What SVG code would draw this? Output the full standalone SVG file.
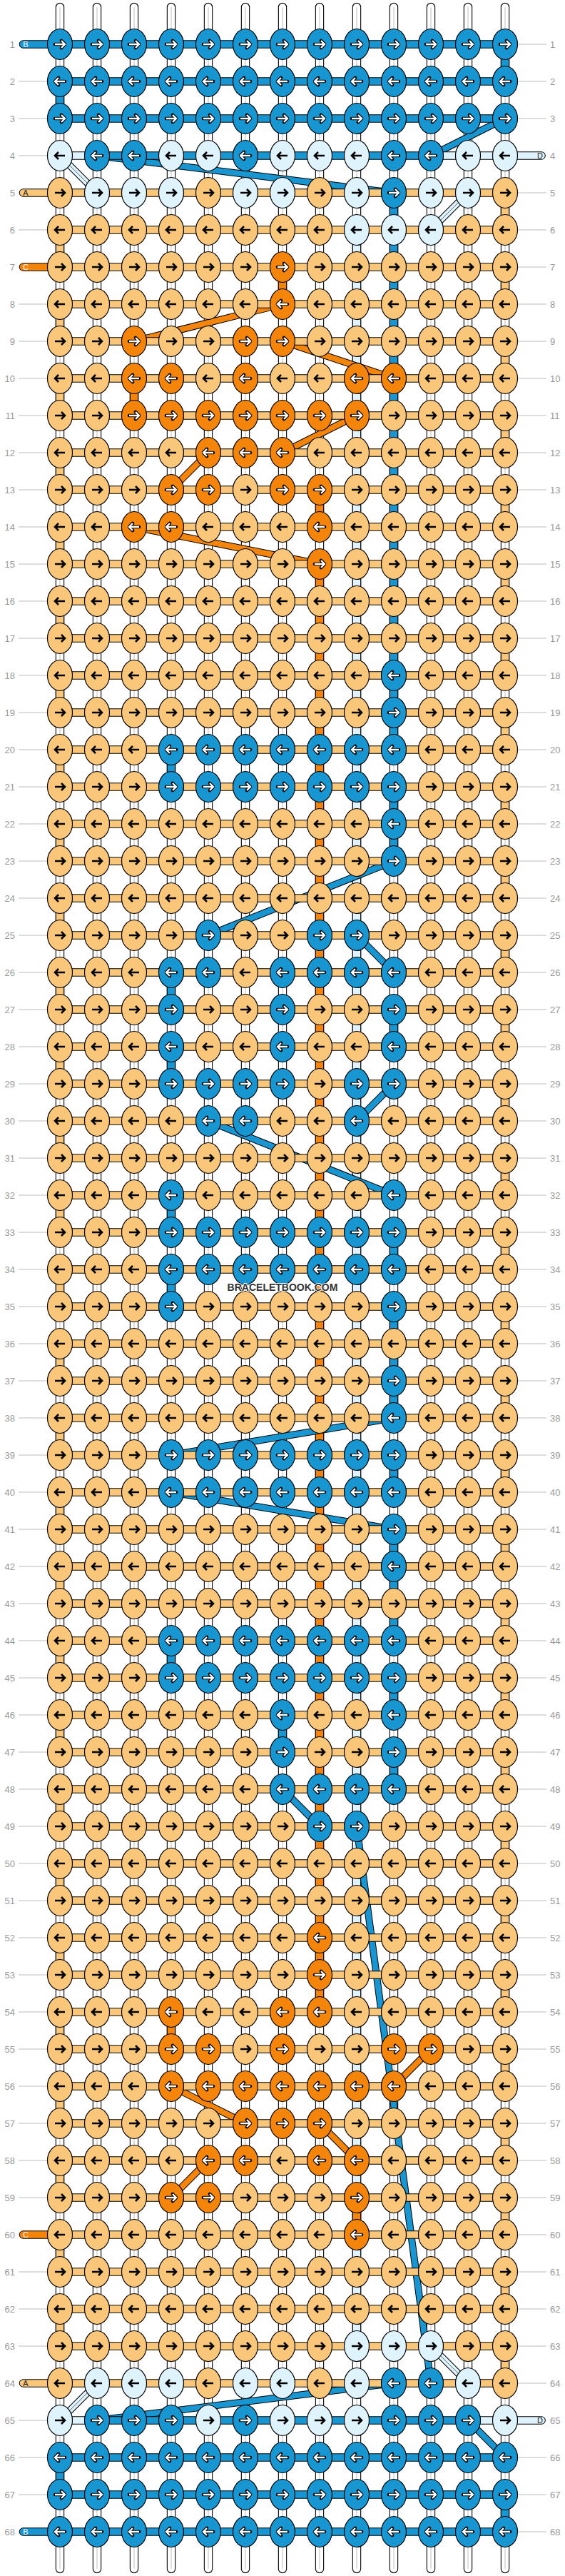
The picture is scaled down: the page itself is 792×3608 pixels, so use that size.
<svg xmlns="http://www.w3.org/2000/svg" width="792" height="3608" viewBox="0 0 792 3608">
<style>
.n{fill:none}
.ob{stroke:#000;stroke-width:12.4}
.ov{stroke-width:10.2}
.od{stroke:#000;stroke-width:10}
.dv{stroke-width:8}
.oh{stroke:#000;stroke-width:11.6}
.hv{stroke-width:9.6}
.rc{stroke-linecap:round}
.da{stroke-dasharray:52 52}
.cW{stroke:#fff}.cG{stroke:#c9c9c9;stroke-width:1.2}
.cA{stroke:#fac67a}.cB{stroke:#1896d2}.cC{stroke:#f5850a}.cD{stroke:#dff3fd}
.fA{fill:#fac67a}.fB{fill:#1896d2}.fC{fill:#f5850a}.fD{fill:#dff3fd}
ellipse{stroke:#000;stroke-width:1.2}
.ab{fill:none;stroke:#000;stroke-width:2.6}
.ao{fill:none;stroke:#000;stroke-width:4.6;stroke-linejoin:round;stroke-linecap:round}
.aw{fill:none;stroke:#fff;stroke-width:2.4}
.gl{stroke:#bbb;stroke-width:1.2}
.ll,.lr{font-family:"Liberation Sans",Arial,sans-serif;font-size:13px;fill:#999}
.ll{text-anchor:end}
.tl{font-family:"Liberation Sans",Arial,sans-serif;font-size:11px;text-anchor:middle}
.wm{font-family:"Liberation Sans",Arial,sans-serif;font-size:14px;font-weight:bold;fill:#333;stroke:#fff;stroke-width:2;paint-order:stroke;text-anchor:middle}
</style>
<defs>
<path id="ar" d="M-7 0H7M2-5 7 0 2 5"/>
<path id="al" d="M7 0H-7M-2-5-7 0-2 5"/>
<g id="AR"><ellipse class="fA" rx="17.5" ry="21.5"/><use href="#ar" class="ab"/></g>
<g id="AL"><ellipse class="fA" rx="17.5" ry="21.5"/><use href="#al" class="ab"/></g>
<g id="DR"><ellipse class="fD" rx="17.5" ry="21.5"/><use href="#ar" class="ab"/></g>
<g id="DL"><ellipse class="fD" rx="17.5" ry="21.5"/><use href="#al" class="ab"/></g>
<g id="BR"><ellipse class="fB" rx="17.5" ry="21.5"/><use href="#ar" class="ao"/><use href="#ar" class="aw"/></g>
<g id="BL"><ellipse class="fB" rx="17.5" ry="21.5"/><use href="#al" class="ao"/><use href="#al" class="aw"/></g>
<g id="CR"><ellipse class="fC" rx="17.5" ry="21.5"/><use href="#ar" class="ao"/><use href="#ar" class="aw"/></g>
<g id="CL"><ellipse class="fC" rx="17.5" ry="21.5"/><use href="#al" class="ao"/><use href="#al" class="aw"/></g>
<path id="st" d="M84 10V3598M136 10V3598M188 10V3598M240 10V3598M292 10V3598M344 10V3598M396 10V3598M448 10V3598M500 10V3598M552 10V3598M604 10V3598M656 10V3598M708 10V3598"/>
<path id="vB" d="M708 62V114M84 114V166M552 270V1050M240 1050V1102M552 1102V1206M240 1362V1414M552 1414V1466M240 1466V1518M240 1674V1726M552 1726V1778M240 1778V1830M552 1830V1986M552 2038V2090M552 2142V2298M240 2298V2350M552 2350V2402M396 2402V2454M552 2454V2506M84 3442V3494M708 3494V3546"/>
<path id="vC" d="M396 374V426M188 530V582M448 686V738M448 790V2818M240 2818V2870M500 3078V3130"/>
<path id="vD" d="M500 322V3286"/>
<path id="vA" d="M84 322V3286M708 270V3338"/>
<path id="dB" d="M708 166L604 218M136 218L552 270M552 1206L292 1310M500 1310L552 1362M552 1518L500 1570M292 1570L552 1674M552 1986L240 2038M240 2090L552 2142M396 2506L448 2558M500 2558L604 3338M552 3338L136 3390M656 3390L708 3442"/>
<path id="dC" d="M396 426L188 478M396 478L552 530M500 582L396 634M292 634L240 686M188 738L448 790M604 2870L552 2922M240 2922L344 2974M448 2974L500 3026M292 3026L240 3078"/>
<path id="dD" d="M84 218L136 270M656 270L604 322M604 3286L656 3338M136 3338L84 3390"/>
<path id="bB" d="M84 62H708M84 114H708M84 166H708M136 218H604M136 3390H656M84 3442H708M84 3494H708M84 3546H708"/>
<path id="bD" d="M84 218H136M604 218H708M84 3390H136M656 3390H708"/>
<path id="bA" d="M84 270H708M84 322H708M84 374H708M84 426H708M84 478H708M84 530H708M84 582H708M84 634H708M84 686H708M84 738H708M84 790H708M84 842H708M84 894H708M84 946H708M84 998H708M84 1050H708M84 1102H708M84 1154H708M84 1206H708M84 1258H708M84 1310H708M84 1362H708M84 1414H708M84 1466H708M84 1518H708M84 1570H708M84 1622H708M84 1674H708M84 1726H708M84 1778H708M84 1830H708M84 1882H708M84 1934H708M84 1986H708M84 2038H708M84 2090H708M84 2142H708M84 2194H708M84 2246H708M84 2298H708M84 2350H708M84 2402H708M84 2454H708M84 2506H708M84 2558H708M84 2610H708M84 2662H708M84 2714H708M84 2766H708M84 2818H708M84 2870H708M84 2922H708M84 2974H708M84 3026H708M84 3078H708M84 3130H708M84 3182H708M84 3234H708M84 3286H708M84 3338H708"/>
<path id="tB" d="M32.5 62H84M32.5 3546H84"/>
<path id="tA" d="M32.5 270H84M32.5 3338H84"/>
<path id="tC" d="M32.5 374H84M32.5 3130H84"/>
<path id="tD" d="M708 218H759M708 3390H759"/>
</defs>
<rect width="792" height="3608" fill="#fff"/>
<g id="connectors">
<g id="strands"><use href="#st" class="n ob rc"/><use href="#st" class="n ov cW rc"/><use href="#st" class="n cG"/></g>
<g id="carried">
<use href="#vD" class="n ob"/><use href="#vD" class="n ov cD"/>
<use href="#vB" class="n ob"/><use href="#vB" class="n ov cB"/>
<use href="#vC" class="n ob"/><use href="#vC" class="n ov cC"/>
<use href="#vA" class="n ob da"/><use href="#vA" class="n ov cA da"/>
</g>
<g id="diagonals">
<use href="#dB" class="n od"/><use href="#dB" class="n dv cB"/>
<use href="#dC" class="n od"/><use href="#dC" class="n dv cC"/>
<use href="#dD" class="n od"/><use href="#dD" class="n dv cD"/><use href="#dD" class="n" stroke="#444" stroke-width="0.8"/>
</g>
<g id="bands">
<use href="#bA" class="n oh"/><use href="#bA" class="n hv cA"/>
<use href="#bB" class="n oh"/><use href="#bB" class="n hv cB"/>
<use href="#bD" class="n oh"/><use href="#bD" class="n hv cD"/>
<use href="#tB" class="n oh rc"/><use href="#tB" class="n hv cB rc"/>
<use href="#tA" class="n oh rc"/><use href="#tA" class="n hv cA rc"/>
<use href="#tC" class="n oh rc"/><use href="#tC" class="n hv cC rc"/>
<use href="#tD" class="n oh rc"/><use href="#tD" class="n hv cD rc"/>
</g>
</g>
<g id="tail-labels">
<text class="tl" x="36" y="66" fill="#fff">B</text>
<text class="tl" x="36" y="274" fill="#222">A</text>
<text class="tl" x="36" y="378" fill="#fff">C</text>
<text class="tl" x="36" y="3134" fill="#fff">C</text>
<text class="tl" x="36" y="3342" fill="#222">A</text>
<text class="tl" x="36" y="3550" fill="#fff">B</text>
<text class="tl" x="757" y="222" fill="#222">D</text>
<text class="tl" x="757" y="3394" fill="#222">D</text>
</g>
<g id="row1" transform="translate(0,62)"><path class="gl" d="M725 0H766"/><text class="ll" x="21" y="4.5">1</text><text class="lr" x="771" y="4.5">1</text><use id="k1_1" href="#BR" x="84"/><use id="k1_2" href="#BR" x="136"/><use id="k1_3" href="#BR" x="188"/><use id="k1_4" href="#BR" x="240"/><use id="k1_5" href="#BR" x="292"/><use id="k1_6" href="#BR" x="344"/><use id="k1_7" href="#BR" x="396"/><use id="k1_8" href="#BR" x="448"/><use id="k1_9" href="#BR" x="500"/><use id="k1_10" href="#BR" x="552"/><use id="k1_11" href="#BR" x="604"/><use id="k1_12" href="#BR" x="656"/><use id="k1_13" href="#BR" x="708"/></g>
<g id="row2" transform="translate(0,114)"><path class="gl" d="M26 0H66M725 0H766"/><text class="ll" x="21" y="4.5">2</text><text class="lr" x="771" y="4.5">2</text><use id="k2_1" href="#BL" x="84"/><use id="k2_2" href="#BL" x="136"/><use id="k2_3" href="#BL" x="188"/><use id="k2_4" href="#BL" x="240"/><use id="k2_5" href="#BL" x="292"/><use id="k2_6" href="#BL" x="344"/><use id="k2_7" href="#BL" x="396"/><use id="k2_8" href="#BL" x="448"/><use id="k2_9" href="#BL" x="500"/><use id="k2_10" href="#BL" x="552"/><use id="k2_11" href="#BL" x="604"/><use id="k2_12" href="#BL" x="656"/><use id="k2_13" href="#BL" x="708"/></g>
<g id="row3" transform="translate(0,166)"><path class="gl" d="M26 0H66M725 0H766"/><text class="ll" x="21" y="4.5">3</text><text class="lr" x="771" y="4.5">3</text><use id="k3_1" href="#BR" x="84"/><use id="k3_2" href="#BR" x="136"/><use id="k3_3" href="#BR" x="188"/><use id="k3_4" href="#BR" x="240"/><use id="k3_5" href="#BR" x="292"/><use id="k3_6" href="#BR" x="344"/><use id="k3_7" href="#BR" x="396"/><use id="k3_8" href="#BR" x="448"/><use id="k3_9" href="#BR" x="500"/><use id="k3_10" href="#BR" x="552"/><use id="k3_11" href="#BR" x="604"/><use id="k3_12" href="#BR" x="656"/><use id="k3_13" href="#BR" x="708"/></g>
<g id="row4" transform="translate(0,218)"><path class="gl" d="M26 0H66"/><text class="ll" x="21" y="4.5">4</text><text class="lr" x="771" y="4.5">4</text><use id="k4_1" href="#DL" x="84"/><use id="k4_2" href="#BL" x="136"/><use id="k4_3" href="#BL" x="188"/><use id="k4_4" href="#DL" x="240"/><use id="k4_5" href="#DL" x="292"/><use id="k4_6" href="#BL" x="344"/><use id="k4_7" href="#DL" x="396"/><use id="k4_8" href="#DL" x="448"/><use id="k4_9" href="#DL" x="500"/><use id="k4_10" href="#BL" x="552"/><use id="k4_11" href="#BL" x="604"/><use id="k4_12" href="#DL" x="656"/><use id="k4_13" href="#DL" x="708"/></g>
<g id="row5" transform="translate(0,270)"><path class="gl" d="M725 0H766"/><text class="ll" x="21" y="4.5">5</text><text class="lr" x="771" y="4.5">5</text><use id="k5_1" href="#AR" x="84"/><use id="k5_2" href="#DR" x="136"/><use id="k5_3" href="#DR" x="188"/><use id="k5_4" href="#DR" x="240"/><use id="k5_5" href="#AR" x="292"/><use id="k5_6" href="#DR" x="344"/><use id="k5_7" href="#DR" x="396"/><use id="k5_8" href="#AR" x="448"/><use id="k5_9" href="#DR" x="500"/><use id="k5_10" href="#BR" x="552"/><use id="k5_11" href="#DR" x="604"/><use id="k5_12" href="#DR" x="656"/><use id="k5_13" href="#AR" x="708"/></g>
<g id="row6" transform="translate(0,322)"><path class="gl" d="M26 0H66M725 0H766"/><text class="ll" x="21" y="4.5">6</text><text class="lr" x="771" y="4.5">6</text><use id="k6_1" href="#AL" x="84"/><use id="k6_2" href="#AL" x="136"/><use id="k6_3" href="#AL" x="188"/><use id="k6_4" href="#AL" x="240"/><use id="k6_5" href="#AL" x="292"/><use id="k6_6" href="#AL" x="344"/><use id="k6_7" href="#AL" x="396"/><use id="k6_8" href="#AL" x="448"/><use id="k6_9" href="#DL" x="500"/><use id="k6_10" href="#DL" x="552"/><use id="k6_11" href="#DL" x="604"/><use id="k6_12" href="#AL" x="656"/><use id="k6_13" href="#AL" x="708"/></g>
<g id="row7" transform="translate(0,374)"><path class="gl" d="M725 0H766"/><text class="ll" x="21" y="4.5">7</text><text class="lr" x="771" y="4.5">7</text><use id="k7_1" href="#AR" x="84"/><use id="k7_2" href="#AR" x="136"/><use id="k7_3" href="#AR" x="188"/><use id="k7_4" href="#AR" x="240"/><use id="k7_5" href="#AR" x="292"/><use id="k7_6" href="#AR" x="344"/><use id="k7_7" href="#CR" x="396"/><use id="k7_8" href="#AR" x="448"/><use id="k7_9" href="#AR" x="500"/><use id="k7_10" href="#AR" x="552"/><use id="k7_11" href="#AR" x="604"/><use id="k7_12" href="#AR" x="656"/><use id="k7_13" href="#AR" x="708"/></g>
<g id="row8" transform="translate(0,426)"><path class="gl" d="M26 0H66M725 0H766"/><text class="ll" x="21" y="4.5">8</text><text class="lr" x="771" y="4.5">8</text><use id="k8_1" href="#AL" x="84"/><use id="k8_2" href="#AL" x="136"/><use id="k8_3" href="#AL" x="188"/><use id="k8_4" href="#AL" x="240"/><use id="k8_5" href="#AL" x="292"/><use id="k8_6" href="#AL" x="344"/><use id="k8_7" href="#CL" x="396"/><use id="k8_8" href="#AL" x="448"/><use id="k8_9" href="#AL" x="500"/><use id="k8_10" href="#AL" x="552"/><use id="k8_11" href="#AL" x="604"/><use id="k8_12" href="#AL" x="656"/><use id="k8_13" href="#AL" x="708"/></g>
<g id="row9" transform="translate(0,478)"><path class="gl" d="M26 0H66M725 0H766"/><text class="ll" x="21" y="4.5">9</text><text class="lr" x="771" y="4.5">9</text><use id="k9_1" href="#AR" x="84"/><use id="k9_2" href="#AR" x="136"/><use id="k9_3" href="#CR" x="188"/><use id="k9_4" href="#AR" x="240"/><use id="k9_5" href="#AR" x="292"/><use id="k9_6" href="#CR" x="344"/><use id="k9_7" href="#CR" x="396"/><use id="k9_8" href="#AR" x="448"/><use id="k9_9" href="#AR" x="500"/><use id="k9_10" href="#AR" x="552"/><use id="k9_11" href="#AR" x="604"/><use id="k9_12" href="#AR" x="656"/><use id="k9_13" href="#AR" x="708"/></g>
<g id="row10" transform="translate(0,530)"><path class="gl" d="M26 0H66M725 0H766"/><text class="ll" x="21" y="4.5">10</text><text class="lr" x="771" y="4.5">10</text><use id="k10_1" href="#AL" x="84"/><use id="k10_2" href="#AL" x="136"/><use id="k10_3" href="#CL" x="188"/><use id="k10_4" href="#CL" x="240"/><use id="k10_5" href="#AL" x="292"/><use id="k10_6" href="#CL" x="344"/><use id="k10_7" href="#AL" x="396"/><use id="k10_8" href="#AL" x="448"/><use id="k10_9" href="#CL" x="500"/><use id="k10_10" href="#CL" x="552"/><use id="k10_11" href="#AL" x="604"/><use id="k10_12" href="#AL" x="656"/><use id="k10_13" href="#AL" x="708"/></g>
<g id="row11" transform="translate(0,582)"><path class="gl" d="M26 0H66M725 0H766"/><text class="ll" x="21" y="4.5">11</text><text class="lr" x="771" y="4.5">11</text><use id="k11_1" href="#AR" x="84"/><use id="k11_2" href="#AR" x="136"/><use id="k11_3" href="#CR" x="188"/><use id="k11_4" href="#CR" x="240"/><use id="k11_5" href="#CR" x="292"/><use id="k11_6" href="#CR" x="344"/><use id="k11_7" href="#CR" x="396"/><use id="k11_8" href="#CR" x="448"/><use id="k11_9" href="#CR" x="500"/><use id="k11_10" href="#AR" x="552"/><use id="k11_11" href="#AR" x="604"/><use id="k11_12" href="#AR" x="656"/><use id="k11_13" href="#AR" x="708"/></g>
<g id="row12" transform="translate(0,634)"><path class="gl" d="M26 0H66M725 0H766"/><text class="ll" x="21" y="4.5">12</text><text class="lr" x="771" y="4.5">12</text><use id="k12_1" href="#AL" x="84"/><use id="k12_2" href="#AL" x="136"/><use id="k12_3" href="#AL" x="188"/><use id="k12_4" href="#AL" x="240"/><use id="k12_5" href="#CL" x="292"/><use id="k12_6" href="#CL" x="344"/><use id="k12_7" href="#CL" x="396"/><use id="k12_8" href="#AL" x="448"/><use id="k12_9" href="#AL" x="500"/><use id="k12_10" href="#AL" x="552"/><use id="k12_11" href="#AL" x="604"/><use id="k12_12" href="#AL" x="656"/><use id="k12_13" href="#AL" x="708"/></g>
<g id="row13" transform="translate(0,686)"><path class="gl" d="M26 0H66M725 0H766"/><text class="ll" x="21" y="4.5">13</text><text class="lr" x="771" y="4.5">13</text><use id="k13_1" href="#AR" x="84"/><use id="k13_2" href="#AR" x="136"/><use id="k13_3" href="#AR" x="188"/><use id="k13_4" href="#CR" x="240"/><use id="k13_5" href="#CR" x="292"/><use id="k13_6" href="#AR" x="344"/><use id="k13_7" href="#CR" x="396"/><use id="k13_8" href="#CR" x="448"/><use id="k13_9" href="#AR" x="500"/><use id="k13_10" href="#AR" x="552"/><use id="k13_11" href="#AR" x="604"/><use id="k13_12" href="#AR" x="656"/><use id="k13_13" href="#AR" x="708"/></g>
<g id="row14" transform="translate(0,738)"><path class="gl" d="M26 0H66M725 0H766"/><text class="ll" x="21" y="4.5">14</text><text class="lr" x="771" y="4.5">14</text><use id="k14_1" href="#AL" x="84"/><use id="k14_2" href="#AL" x="136"/><use id="k14_3" href="#CL" x="188"/><use id="k14_4" href="#CL" x="240"/><use id="k14_5" href="#AL" x="292"/><use id="k14_6" href="#AL" x="344"/><use id="k14_7" href="#AL" x="396"/><use id="k14_8" href="#CL" x="448"/><use id="k14_9" href="#AL" x="500"/><use id="k14_10" href="#AL" x="552"/><use id="k14_11" href="#AL" x="604"/><use id="k14_12" href="#AL" x="656"/><use id="k14_13" href="#AL" x="708"/></g>
<g id="row15" transform="translate(0,790)"><path class="gl" d="M26 0H66M725 0H766"/><text class="ll" x="21" y="4.5">15</text><text class="lr" x="771" y="4.5">15</text><use id="k15_1" href="#AR" x="84"/><use id="k15_2" href="#AR" x="136"/><use id="k15_3" href="#AR" x="188"/><use id="k15_4" href="#AR" x="240"/><use id="k15_5" href="#AR" x="292"/><use id="k15_6" href="#AR" x="344"/><use id="k15_7" href="#AR" x="396"/><use id="k15_8" href="#CR" x="448"/><use id="k15_9" href="#AR" x="500"/><use id="k15_10" href="#AR" x="552"/><use id="k15_11" href="#AR" x="604"/><use id="k15_12" href="#AR" x="656"/><use id="k15_13" href="#AR" x="708"/></g>
<g id="row16" transform="translate(0,842)"><path class="gl" d="M26 0H66M725 0H766"/><text class="ll" x="21" y="4.5">16</text><text class="lr" x="771" y="4.5">16</text><use id="k16_1" href="#AL" x="84"/><use id="k16_2" href="#AL" x="136"/><use id="k16_3" href="#AL" x="188"/><use id="k16_4" href="#AL" x="240"/><use id="k16_5" href="#AL" x="292"/><use id="k16_6" href="#AL" x="344"/><use id="k16_7" href="#AL" x="396"/><use id="k16_8" href="#AL" x="448"/><use id="k16_9" href="#AL" x="500"/><use id="k16_10" href="#AL" x="552"/><use id="k16_11" href="#AL" x="604"/><use id="k16_12" href="#AL" x="656"/><use id="k16_13" href="#AL" x="708"/></g>
<g id="row17" transform="translate(0,894)"><path class="gl" d="M26 0H66M725 0H766"/><text class="ll" x="21" y="4.5">17</text><text class="lr" x="771" y="4.5">17</text><use id="k17_1" href="#AR" x="84"/><use id="k17_2" href="#AR" x="136"/><use id="k17_3" href="#AR" x="188"/><use id="k17_4" href="#AR" x="240"/><use id="k17_5" href="#AR" x="292"/><use id="k17_6" href="#AR" x="344"/><use id="k17_7" href="#AR" x="396"/><use id="k17_8" href="#AR" x="448"/><use id="k17_9" href="#AR" x="500"/><use id="k17_10" href="#AR" x="552"/><use id="k17_11" href="#AR" x="604"/><use id="k17_12" href="#AR" x="656"/><use id="k17_13" href="#AR" x="708"/></g>
<g id="row18" transform="translate(0,946)"><path class="gl" d="M26 0H66M725 0H766"/><text class="ll" x="21" y="4.5">18</text><text class="lr" x="771" y="4.5">18</text><use id="k18_1" href="#AL" x="84"/><use id="k18_2" href="#AL" x="136"/><use id="k18_3" href="#AL" x="188"/><use id="k18_4" href="#AL" x="240"/><use id="k18_5" href="#AL" x="292"/><use id="k18_6" href="#AL" x="344"/><use id="k18_7" href="#AL" x="396"/><use id="k18_8" href="#AL" x="448"/><use id="k18_9" href="#AL" x="500"/><use id="k18_10" href="#BL" x="552"/><use id="k18_11" href="#AL" x="604"/><use id="k18_12" href="#AL" x="656"/><use id="k18_13" href="#AL" x="708"/></g>
<g id="row19" transform="translate(0,998)"><path class="gl" d="M26 0H66M725 0H766"/><text class="ll" x="21" y="4.5">19</text><text class="lr" x="771" y="4.5">19</text><use id="k19_1" href="#AR" x="84"/><use id="k19_2" href="#AR" x="136"/><use id="k19_3" href="#AR" x="188"/><use id="k19_4" href="#AR" x="240"/><use id="k19_5" href="#AR" x="292"/><use id="k19_6" href="#AR" x="344"/><use id="k19_7" href="#AR" x="396"/><use id="k19_8" href="#AR" x="448"/><use id="k19_9" href="#AR" x="500"/><use id="k19_10" href="#BR" x="552"/><use id="k19_11" href="#AR" x="604"/><use id="k19_12" href="#AR" x="656"/><use id="k19_13" href="#AR" x="708"/></g>
<g id="row20" transform="translate(0,1050)"><path class="gl" d="M26 0H66M725 0H766"/><text class="ll" x="21" y="4.5">20</text><text class="lr" x="771" y="4.5">20</text><use id="k20_1" href="#AL" x="84"/><use id="k20_2" href="#AL" x="136"/><use id="k20_3" href="#AL" x="188"/><use id="k20_4" href="#BL" x="240"/><use id="k20_5" href="#BL" x="292"/><use id="k20_6" href="#BL" x="344"/><use id="k20_7" href="#BL" x="396"/><use id="k20_8" href="#BL" x="448"/><use id="k20_9" href="#BL" x="500"/><use id="k20_10" href="#BL" x="552"/><use id="k20_11" href="#AL" x="604"/><use id="k20_12" href="#AL" x="656"/><use id="k20_13" href="#AL" x="708"/></g>
<g id="row21" transform="translate(0,1102)"><path class="gl" d="M26 0H66M725 0H766"/><text class="ll" x="21" y="4.5">21</text><text class="lr" x="771" y="4.5">21</text><use id="k21_1" href="#AR" x="84"/><use id="k21_2" href="#AR" x="136"/><use id="k21_3" href="#AR" x="188"/><use id="k21_4" href="#BR" x="240"/><use id="k21_5" href="#BR" x="292"/><use id="k21_6" href="#BR" x="344"/><use id="k21_7" href="#BR" x="396"/><use id="k21_8" href="#BR" x="448"/><use id="k21_9" href="#BR" x="500"/><use id="k21_10" href="#BR" x="552"/><use id="k21_11" href="#AR" x="604"/><use id="k21_12" href="#AR" x="656"/><use id="k21_13" href="#AR" x="708"/></g>
<g id="row22" transform="translate(0,1154)"><path class="gl" d="M26 0H66M725 0H766"/><text class="ll" x="21" y="4.5">22</text><text class="lr" x="771" y="4.5">22</text><use id="k22_1" href="#AL" x="84"/><use id="k22_2" href="#AL" x="136"/><use id="k22_3" href="#AL" x="188"/><use id="k22_4" href="#AL" x="240"/><use id="k22_5" href="#AL" x="292"/><use id="k22_6" href="#AL" x="344"/><use id="k22_7" href="#AL" x="396"/><use id="k22_8" href="#AL" x="448"/><use id="k22_9" href="#AL" x="500"/><use id="k22_10" href="#BL" x="552"/><use id="k22_11" href="#AL" x="604"/><use id="k22_12" href="#AL" x="656"/><use id="k22_13" href="#AL" x="708"/></g>
<g id="row23" transform="translate(0,1206)"><path class="gl" d="M26 0H66M725 0H766"/><text class="ll" x="21" y="4.5">23</text><text class="lr" x="771" y="4.5">23</text><use id="k23_1" href="#AR" x="84"/><use id="k23_2" href="#AR" x="136"/><use id="k23_3" href="#AR" x="188"/><use id="k23_4" href="#AR" x="240"/><use id="k23_5" href="#AR" x="292"/><use id="k23_6" href="#AR" x="344"/><use id="k23_7" href="#AR" x="396"/><use id="k23_8" href="#AR" x="448"/><use id="k23_9" href="#AR" x="500"/><use id="k23_10" href="#BR" x="552"/><use id="k23_11" href="#AR" x="604"/><use id="k23_12" href="#AR" x="656"/><use id="k23_13" href="#AR" x="708"/></g>
<g id="row24" transform="translate(0,1258)"><path class="gl" d="M26 0H66M725 0H766"/><text class="ll" x="21" y="4.5">24</text><text class="lr" x="771" y="4.5">24</text><use id="k24_1" href="#AL" x="84"/><use id="k24_2" href="#AL" x="136"/><use id="k24_3" href="#AL" x="188"/><use id="k24_4" href="#AL" x="240"/><use id="k24_5" href="#AL" x="292"/><use id="k24_6" href="#AL" x="344"/><use id="k24_7" href="#AL" x="396"/><use id="k24_8" href="#AL" x="448"/><use id="k24_9" href="#AL" x="500"/><use id="k24_10" href="#AL" x="552"/><use id="k24_11" href="#AL" x="604"/><use id="k24_12" href="#AL" x="656"/><use id="k24_13" href="#AL" x="708"/></g>
<g id="row25" transform="translate(0,1310)"><path class="gl" d="M26 0H66M725 0H766"/><text class="ll" x="21" y="4.5">25</text><text class="lr" x="771" y="4.5">25</text><use id="k25_1" href="#AR" x="84"/><use id="k25_2" href="#AR" x="136"/><use id="k25_3" href="#AR" x="188"/><use id="k25_4" href="#AR" x="240"/><use id="k25_5" href="#BR" x="292"/><use id="k25_6" href="#AR" x="344"/><use id="k25_7" href="#AR" x="396"/><use id="k25_8" href="#BR" x="448"/><use id="k25_9" href="#BR" x="500"/><use id="k25_10" href="#AR" x="552"/><use id="k25_11" href="#AR" x="604"/><use id="k25_12" href="#AR" x="656"/><use id="k25_13" href="#AR" x="708"/></g>
<g id="row26" transform="translate(0,1362)"><path class="gl" d="M26 0H66M725 0H766"/><text class="ll" x="21" y="4.5">26</text><text class="lr" x="771" y="4.5">26</text><use id="k26_1" href="#AL" x="84"/><use id="k26_2" href="#AL" x="136"/><use id="k26_3" href="#AL" x="188"/><use id="k26_4" href="#BL" x="240"/><use id="k26_5" href="#BL" x="292"/><use id="k26_6" href="#AL" x="344"/><use id="k26_7" href="#BL" x="396"/><use id="k26_8" href="#BL" x="448"/><use id="k26_9" href="#BL" x="500"/><use id="k26_10" href="#BL" x="552"/><use id="k26_11" href="#AL" x="604"/><use id="k26_12" href="#AL" x="656"/><use id="k26_13" href="#AL" x="708"/></g>
<g id="row27" transform="translate(0,1414)"><path class="gl" d="M26 0H66M725 0H766"/><text class="ll" x="21" y="4.5">27</text><text class="lr" x="771" y="4.5">27</text><use id="k27_1" href="#AR" x="84"/><use id="k27_2" href="#AR" x="136"/><use id="k27_3" href="#AR" x="188"/><use id="k27_4" href="#BR" x="240"/><use id="k27_5" href="#AR" x="292"/><use id="k27_6" href="#AR" x="344"/><use id="k27_7" href="#BR" x="396"/><use id="k27_8" href="#AR" x="448"/><use id="k27_9" href="#AR" x="500"/><use id="k27_10" href="#BR" x="552"/><use id="k27_11" href="#AR" x="604"/><use id="k27_12" href="#AR" x="656"/><use id="k27_13" href="#AR" x="708"/></g>
<g id="row28" transform="translate(0,1466)"><path class="gl" d="M26 0H66M725 0H766"/><text class="ll" x="21" y="4.5">28</text><text class="lr" x="771" y="4.5">28</text><use id="k28_1" href="#AL" x="84"/><use id="k28_2" href="#AL" x="136"/><use id="k28_3" href="#AL" x="188"/><use id="k28_4" href="#BL" x="240"/><use id="k28_5" href="#AL" x="292"/><use id="k28_6" href="#AL" x="344"/><use id="k28_7" href="#BL" x="396"/><use id="k28_8" href="#AL" x="448"/><use id="k28_9" href="#AL" x="500"/><use id="k28_10" href="#BL" x="552"/><use id="k28_11" href="#AL" x="604"/><use id="k28_12" href="#AL" x="656"/><use id="k28_13" href="#AL" x="708"/></g>
<g id="row29" transform="translate(0,1518)"><path class="gl" d="M26 0H66M725 0H766"/><text class="ll" x="21" y="4.5">29</text><text class="lr" x="771" y="4.5">29</text><use id="k29_1" href="#AR" x="84"/><use id="k29_2" href="#AR" x="136"/><use id="k29_3" href="#AR" x="188"/><use id="k29_4" href="#BR" x="240"/><use id="k29_5" href="#BR" x="292"/><use id="k29_6" href="#BR" x="344"/><use id="k29_7" href="#BR" x="396"/><use id="k29_8" href="#AR" x="448"/><use id="k29_9" href="#BR" x="500"/><use id="k29_10" href="#BR" x="552"/><use id="k29_11" href="#AR" x="604"/><use id="k29_12" href="#AR" x="656"/><use id="k29_13" href="#AR" x="708"/></g>
<g id="row30" transform="translate(0,1570)"><path class="gl" d="M26 0H66M725 0H766"/><text class="ll" x="21" y="4.5">30</text><text class="lr" x="771" y="4.5">30</text><use id="k30_1" href="#AL" x="84"/><use id="k30_2" href="#AL" x="136"/><use id="k30_3" href="#AL" x="188"/><use id="k30_4" href="#AL" x="240"/><use id="k30_5" href="#BL" x="292"/><use id="k30_6" href="#BL" x="344"/><use id="k30_7" href="#AL" x="396"/><use id="k30_8" href="#AL" x="448"/><use id="k30_9" href="#BL" x="500"/><use id="k30_10" href="#AL" x="552"/><use id="k30_11" href="#AL" x="604"/><use id="k30_12" href="#AL" x="656"/><use id="k30_13" href="#AL" x="708"/></g>
<g id="row31" transform="translate(0,1622)"><path class="gl" d="M26 0H66M725 0H766"/><text class="ll" x="21" y="4.5">31</text><text class="lr" x="771" y="4.5">31</text><use id="k31_1" href="#AR" x="84"/><use id="k31_2" href="#AR" x="136"/><use id="k31_3" href="#AR" x="188"/><use id="k31_4" href="#AR" x="240"/><use id="k31_5" href="#AR" x="292"/><use id="k31_6" href="#AR" x="344"/><use id="k31_7" href="#AR" x="396"/><use id="k31_8" href="#AR" x="448"/><use id="k31_9" href="#AR" x="500"/><use id="k31_10" href="#AR" x="552"/><use id="k31_11" href="#AR" x="604"/><use id="k31_12" href="#AR" x="656"/><use id="k31_13" href="#AR" x="708"/></g>
<g id="row32" transform="translate(0,1674)"><path class="gl" d="M26 0H66M725 0H766"/><text class="ll" x="21" y="4.5">32</text><text class="lr" x="771" y="4.5">32</text><use id="k32_1" href="#AL" x="84"/><use id="k32_2" href="#AL" x="136"/><use id="k32_3" href="#AL" x="188"/><use id="k32_4" href="#BL" x="240"/><use id="k32_5" href="#AL" x="292"/><use id="k32_6" href="#AL" x="344"/><use id="k32_7" href="#AL" x="396"/><use id="k32_8" href="#AL" x="448"/><use id="k32_9" href="#AL" x="500"/><use id="k32_10" href="#BL" x="552"/><use id="k32_11" href="#AL" x="604"/><use id="k32_12" href="#AL" x="656"/><use id="k32_13" href="#AL" x="708"/></g>
<g id="row33" transform="translate(0,1726)"><path class="gl" d="M26 0H66M725 0H766"/><text class="ll" x="21" y="4.5">33</text><text class="lr" x="771" y="4.5">33</text><use id="k33_1" href="#AR" x="84"/><use id="k33_2" href="#AR" x="136"/><use id="k33_3" href="#AR" x="188"/><use id="k33_4" href="#BR" x="240"/><use id="k33_5" href="#BR" x="292"/><use id="k33_6" href="#BR" x="344"/><use id="k33_7" href="#BR" x="396"/><use id="k33_8" href="#BR" x="448"/><use id="k33_9" href="#BR" x="500"/><use id="k33_10" href="#BR" x="552"/><use id="k33_11" href="#AR" x="604"/><use id="k33_12" href="#AR" x="656"/><use id="k33_13" href="#AR" x="708"/></g>
<g id="row34" transform="translate(0,1778)"><path class="gl" d="M26 0H66M725 0H766"/><text class="ll" x="21" y="4.5">34</text><text class="lr" x="771" y="4.5">34</text><use id="k34_1" href="#AL" x="84"/><use id="k34_2" href="#AL" x="136"/><use id="k34_3" href="#AL" x="188"/><use id="k34_4" href="#BL" x="240"/><use id="k34_5" href="#BL" x="292"/><use id="k34_6" href="#BL" x="344"/><use id="k34_7" href="#BL" x="396"/><use id="k34_8" href="#BL" x="448"/><use id="k34_9" href="#BL" x="500"/><use id="k34_10" href="#BL" x="552"/><use id="k34_11" href="#AL" x="604"/><use id="k34_12" href="#AL" x="656"/><use id="k34_13" href="#AL" x="708"/></g>
<g id="row35" transform="translate(0,1830)"><path class="gl" d="M26 0H66M725 0H766"/><text class="ll" x="21" y="4.5">35</text><text class="lr" x="771" y="4.5">35</text><use id="k35_1" href="#AR" x="84"/><use id="k35_2" href="#AR" x="136"/><use id="k35_3" href="#AR" x="188"/><use id="k35_4" href="#BR" x="240"/><use id="k35_5" href="#AR" x="292"/><use id="k35_6" href="#AR" x="344"/><use id="k35_7" href="#AR" x="396"/><use id="k35_8" href="#AR" x="448"/><use id="k35_9" href="#AR" x="500"/><use id="k35_10" href="#BR" x="552"/><use id="k35_11" href="#AR" x="604"/><use id="k35_12" href="#AR" x="656"/><use id="k35_13" href="#AR" x="708"/></g>
<g id="row36" transform="translate(0,1882)"><path class="gl" d="M26 0H66M725 0H766"/><text class="ll" x="21" y="4.5">36</text><text class="lr" x="771" y="4.5">36</text><use id="k36_1" href="#AL" x="84"/><use id="k36_2" href="#AL" x="136"/><use id="k36_3" href="#AL" x="188"/><use id="k36_4" href="#AL" x="240"/><use id="k36_5" href="#AL" x="292"/><use id="k36_6" href="#AL" x="344"/><use id="k36_7" href="#AL" x="396"/><use id="k36_8" href="#AL" x="448"/><use id="k36_9" href="#AL" x="500"/><use id="k36_10" href="#AL" x="552"/><use id="k36_11" href="#AL" x="604"/><use id="k36_12" href="#AL" x="656"/><use id="k36_13" href="#AL" x="708"/></g>
<g id="row37" transform="translate(0,1934)"><path class="gl" d="M26 0H66M725 0H766"/><text class="ll" x="21" y="4.5">37</text><text class="lr" x="771" y="4.5">37</text><use id="k37_1" href="#AR" x="84"/><use id="k37_2" href="#AR" x="136"/><use id="k37_3" href="#AR" x="188"/><use id="k37_4" href="#AR" x="240"/><use id="k37_5" href="#AR" x="292"/><use id="k37_6" href="#AR" x="344"/><use id="k37_7" href="#AR" x="396"/><use id="k37_8" href="#AR" x="448"/><use id="k37_9" href="#AR" x="500"/><use id="k37_10" href="#BR" x="552"/><use id="k37_11" href="#AR" x="604"/><use id="k37_12" href="#AR" x="656"/><use id="k37_13" href="#AR" x="708"/></g>
<g id="row38" transform="translate(0,1986)"><path class="gl" d="M26 0H66M725 0H766"/><text class="ll" x="21" y="4.5">38</text><text class="lr" x="771" y="4.5">38</text><use id="k38_1" href="#AL" x="84"/><use id="k38_2" href="#AL" x="136"/><use id="k38_3" href="#AL" x="188"/><use id="k38_4" href="#AL" x="240"/><use id="k38_5" href="#AL" x="292"/><use id="k38_6" href="#AL" x="344"/><use id="k38_7" href="#AL" x="396"/><use id="k38_8" href="#AL" x="448"/><use id="k38_9" href="#AL" x="500"/><use id="k38_10" href="#BL" x="552"/><use id="k38_11" href="#AL" x="604"/><use id="k38_12" href="#AL" x="656"/><use id="k38_13" href="#AL" x="708"/></g>
<g id="row39" transform="translate(0,2038)"><path class="gl" d="M26 0H66M725 0H766"/><text class="ll" x="21" y="4.5">39</text><text class="lr" x="771" y="4.5">39</text><use id="k39_1" href="#AR" x="84"/><use id="k39_2" href="#AR" x="136"/><use id="k39_3" href="#AR" x="188"/><use id="k39_4" href="#BR" x="240"/><use id="k39_5" href="#BR" x="292"/><use id="k39_6" href="#BR" x="344"/><use id="k39_7" href="#BR" x="396"/><use id="k39_8" href="#BR" x="448"/><use id="k39_9" href="#BR" x="500"/><use id="k39_10" href="#BR" x="552"/><use id="k39_11" href="#AR" x="604"/><use id="k39_12" href="#AR" x="656"/><use id="k39_13" href="#AR" x="708"/></g>
<g id="row40" transform="translate(0,2090)"><path class="gl" d="M26 0H66M725 0H766"/><text class="ll" x="21" y="4.5">40</text><text class="lr" x="771" y="4.5">40</text><use id="k40_1" href="#AL" x="84"/><use id="k40_2" href="#AL" x="136"/><use id="k40_3" href="#AL" x="188"/><use id="k40_4" href="#BL" x="240"/><use id="k40_5" href="#BL" x="292"/><use id="k40_6" href="#BL" x="344"/><use id="k40_7" href="#BL" x="396"/><use id="k40_8" href="#BL" x="448"/><use id="k40_9" href="#BL" x="500"/><use id="k40_10" href="#BL" x="552"/><use id="k40_11" href="#AL" x="604"/><use id="k40_12" href="#AL" x="656"/><use id="k40_13" href="#AL" x="708"/></g>
<g id="row41" transform="translate(0,2142)"><path class="gl" d="M26 0H66M725 0H766"/><text class="ll" x="21" y="4.5">41</text><text class="lr" x="771" y="4.5">41</text><use id="k41_1" href="#AR" x="84"/><use id="k41_2" href="#AR" x="136"/><use id="k41_3" href="#AR" x="188"/><use id="k41_4" href="#AR" x="240"/><use id="k41_5" href="#AR" x="292"/><use id="k41_6" href="#AR" x="344"/><use id="k41_7" href="#AR" x="396"/><use id="k41_8" href="#AR" x="448"/><use id="k41_9" href="#AR" x="500"/><use id="k41_10" href="#BR" x="552"/><use id="k41_11" href="#AR" x="604"/><use id="k41_12" href="#AR" x="656"/><use id="k41_13" href="#AR" x="708"/></g>
<g id="row42" transform="translate(0,2194)"><path class="gl" d="M26 0H66M725 0H766"/><text class="ll" x="21" y="4.5">42</text><text class="lr" x="771" y="4.5">42</text><use id="k42_1" href="#AL" x="84"/><use id="k42_2" href="#AL" x="136"/><use id="k42_3" href="#AL" x="188"/><use id="k42_4" href="#AL" x="240"/><use id="k42_5" href="#AL" x="292"/><use id="k42_6" href="#AL" x="344"/><use id="k42_7" href="#AL" x="396"/><use id="k42_8" href="#AL" x="448"/><use id="k42_9" href="#AL" x="500"/><use id="k42_10" href="#BL" x="552"/><use id="k42_11" href="#AL" x="604"/><use id="k42_12" href="#AL" x="656"/><use id="k42_13" href="#AL" x="708"/></g>
<g id="row43" transform="translate(0,2246)"><path class="gl" d="M26 0H66M725 0H766"/><text class="ll" x="21" y="4.5">43</text><text class="lr" x="771" y="4.5">43</text><use id="k43_1" href="#AR" x="84"/><use id="k43_2" href="#AR" x="136"/><use id="k43_3" href="#AR" x="188"/><use id="k43_4" href="#AR" x="240"/><use id="k43_5" href="#AR" x="292"/><use id="k43_6" href="#AR" x="344"/><use id="k43_7" href="#AR" x="396"/><use id="k43_8" href="#AR" x="448"/><use id="k43_9" href="#AR" x="500"/><use id="k43_10" href="#AR" x="552"/><use id="k43_11" href="#AR" x="604"/><use id="k43_12" href="#AR" x="656"/><use id="k43_13" href="#AR" x="708"/></g>
<g id="row44" transform="translate(0,2298)"><path class="gl" d="M26 0H66M725 0H766"/><text class="ll" x="21" y="4.5">44</text><text class="lr" x="771" y="4.5">44</text><use id="k44_1" href="#AL" x="84"/><use id="k44_2" href="#AL" x="136"/><use id="k44_3" href="#AL" x="188"/><use id="k44_4" href="#BL" x="240"/><use id="k44_5" href="#BL" x="292"/><use id="k44_6" href="#BL" x="344"/><use id="k44_7" href="#BL" x="396"/><use id="k44_8" href="#BL" x="448"/><use id="k44_9" href="#BL" x="500"/><use id="k44_10" href="#BL" x="552"/><use id="k44_11" href="#AL" x="604"/><use id="k44_12" href="#AL" x="656"/><use id="k44_13" href="#AL" x="708"/></g>
<g id="row45" transform="translate(0,2350)"><path class="gl" d="M26 0H66M725 0H766"/><text class="ll" x="21" y="4.5">45</text><text class="lr" x="771" y="4.5">45</text><use id="k45_1" href="#AR" x="84"/><use id="k45_2" href="#AR" x="136"/><use id="k45_3" href="#AR" x="188"/><use id="k45_4" href="#BR" x="240"/><use id="k45_5" href="#BR" x="292"/><use id="k45_6" href="#BR" x="344"/><use id="k45_7" href="#BR" x="396"/><use id="k45_8" href="#BR" x="448"/><use id="k45_9" href="#BR" x="500"/><use id="k45_10" href="#BR" x="552"/><use id="k45_11" href="#AR" x="604"/><use id="k45_12" href="#AR" x="656"/><use id="k45_13" href="#AR" x="708"/></g>
<g id="row46" transform="translate(0,2402)"><path class="gl" d="M26 0H66M725 0H766"/><text class="ll" x="21" y="4.5">46</text><text class="lr" x="771" y="4.5">46</text><use id="k46_1" href="#AL" x="84"/><use id="k46_2" href="#AL" x="136"/><use id="k46_3" href="#AL" x="188"/><use id="k46_4" href="#AL" x="240"/><use id="k46_5" href="#AL" x="292"/><use id="k46_6" href="#AL" x="344"/><use id="k46_7" href="#BL" x="396"/><use id="k46_8" href="#AL" x="448"/><use id="k46_9" href="#AL" x="500"/><use id="k46_10" href="#BL" x="552"/><use id="k46_11" href="#AL" x="604"/><use id="k46_12" href="#AL" x="656"/><use id="k46_13" href="#AL" x="708"/></g>
<g id="row47" transform="translate(0,2454)"><path class="gl" d="M26 0H66M725 0H766"/><text class="ll" x="21" y="4.5">47</text><text class="lr" x="771" y="4.5">47</text><use id="k47_1" href="#AR" x="84"/><use id="k47_2" href="#AR" x="136"/><use id="k47_3" href="#AR" x="188"/><use id="k47_4" href="#AR" x="240"/><use id="k47_5" href="#AR" x="292"/><use id="k47_6" href="#AR" x="344"/><use id="k47_7" href="#BR" x="396"/><use id="k47_8" href="#AR" x="448"/><use id="k47_9" href="#AR" x="500"/><use id="k47_10" href="#BR" x="552"/><use id="k47_11" href="#AR" x="604"/><use id="k47_12" href="#AR" x="656"/><use id="k47_13" href="#AR" x="708"/></g>
<g id="row48" transform="translate(0,2506)"><path class="gl" d="M26 0H66M725 0H766"/><text class="ll" x="21" y="4.5">48</text><text class="lr" x="771" y="4.5">48</text><use id="k48_1" href="#AL" x="84"/><use id="k48_2" href="#AL" x="136"/><use id="k48_3" href="#AL" x="188"/><use id="k48_4" href="#AL" x="240"/><use id="k48_5" href="#AL" x="292"/><use id="k48_6" href="#AL" x="344"/><use id="k48_7" href="#BL" x="396"/><use id="k48_8" href="#BL" x="448"/><use id="k48_9" href="#BL" x="500"/><use id="k48_10" href="#BL" x="552"/><use id="k48_11" href="#AL" x="604"/><use id="k48_12" href="#AL" x="656"/><use id="k48_13" href="#AL" x="708"/></g>
<g id="row49" transform="translate(0,2558)"><path class="gl" d="M26 0H66M725 0H766"/><text class="ll" x="21" y="4.5">49</text><text class="lr" x="771" y="4.5">49</text><use id="k49_1" href="#AR" x="84"/><use id="k49_2" href="#AR" x="136"/><use id="k49_3" href="#AR" x="188"/><use id="k49_4" href="#AR" x="240"/><use id="k49_5" href="#AR" x="292"/><use id="k49_6" href="#AR" x="344"/><use id="k49_7" href="#AR" x="396"/><use id="k49_8" href="#BR" x="448"/><use id="k49_9" href="#BR" x="500"/><use id="k49_10" href="#AR" x="552"/><use id="k49_11" href="#AR" x="604"/><use id="k49_12" href="#AR" x="656"/><use id="k49_13" href="#AR" x="708"/></g>
<g id="row50" transform="translate(0,2610)"><path class="gl" d="M26 0H66M725 0H766"/><text class="ll" x="21" y="4.5">50</text><text class="lr" x="771" y="4.5">50</text><use id="k50_1" href="#AL" x="84"/><use id="k50_2" href="#AL" x="136"/><use id="k50_3" href="#AL" x="188"/><use id="k50_4" href="#AL" x="240"/><use id="k50_5" href="#AL" x="292"/><use id="k50_6" href="#AL" x="344"/><use id="k50_7" href="#AL" x="396"/><use id="k50_8" href="#AL" x="448"/><use id="k50_9" href="#AL" x="500"/><use id="k50_10" href="#AL" x="552"/><use id="k50_11" href="#AL" x="604"/><use id="k50_12" href="#AL" x="656"/><use id="k50_13" href="#AL" x="708"/></g>
<g id="row51" transform="translate(0,2662)"><path class="gl" d="M26 0H66M725 0H766"/><text class="ll" x="21" y="4.5">51</text><text class="lr" x="771" y="4.5">51</text><use id="k51_1" href="#AR" x="84"/><use id="k51_2" href="#AR" x="136"/><use id="k51_3" href="#AR" x="188"/><use id="k51_4" href="#AR" x="240"/><use id="k51_5" href="#AR" x="292"/><use id="k51_6" href="#AR" x="344"/><use id="k51_7" href="#AR" x="396"/><use id="k51_8" href="#AR" x="448"/><use id="k51_9" href="#AR" x="500"/><use id="k51_10" href="#AR" x="552"/><use id="k51_11" href="#AR" x="604"/><use id="k51_12" href="#AR" x="656"/><use id="k51_13" href="#AR" x="708"/></g>
<g id="row52" transform="translate(0,2714)"><path class="gl" d="M26 0H66M725 0H766"/><text class="ll" x="21" y="4.5">52</text><text class="lr" x="771" y="4.5">52</text><use id="k52_1" href="#AL" x="84"/><use id="k52_2" href="#AL" x="136"/><use id="k52_3" href="#AL" x="188"/><use id="k52_4" href="#AL" x="240"/><use id="k52_5" href="#AL" x="292"/><use id="k52_6" href="#AL" x="344"/><use id="k52_7" href="#AL" x="396"/><use id="k52_8" href="#CL" x="448"/><use id="k52_9" href="#AL" x="500"/><use id="k52_10" href="#AL" x="552"/><use id="k52_11" href="#AL" x="604"/><use id="k52_12" href="#AL" x="656"/><use id="k52_13" href="#AL" x="708"/></g>
<g id="row53" transform="translate(0,2766)"><path class="gl" d="M26 0H66M725 0H766"/><text class="ll" x="21" y="4.5">53</text><text class="lr" x="771" y="4.5">53</text><use id="k53_1" href="#AR" x="84"/><use id="k53_2" href="#AR" x="136"/><use id="k53_3" href="#AR" x="188"/><use id="k53_4" href="#AR" x="240"/><use id="k53_5" href="#AR" x="292"/><use id="k53_6" href="#AR" x="344"/><use id="k53_7" href="#AR" x="396"/><use id="k53_8" href="#CR" x="448"/><use id="k53_9" href="#AR" x="500"/><use id="k53_10" href="#AR" x="552"/><use id="k53_11" href="#AR" x="604"/><use id="k53_12" href="#AR" x="656"/><use id="k53_13" href="#AR" x="708"/></g>
<g id="row54" transform="translate(0,2818)"><path class="gl" d="M26 0H66M725 0H766"/><text class="ll" x="21" y="4.5">54</text><text class="lr" x="771" y="4.5">54</text><use id="k54_1" href="#AL" x="84"/><use id="k54_2" href="#AL" x="136"/><use id="k54_3" href="#AL" x="188"/><use id="k54_4" href="#CL" x="240"/><use id="k54_5" href="#AL" x="292"/><use id="k54_6" href="#AL" x="344"/><use id="k54_7" href="#CL" x="396"/><use id="k54_8" href="#CL" x="448"/><use id="k54_9" href="#AL" x="500"/><use id="k54_10" href="#AL" x="552"/><use id="k54_11" href="#AL" x="604"/><use id="k54_12" href="#AL" x="656"/><use id="k54_13" href="#AL" x="708"/></g>
<g id="row55" transform="translate(0,2870)"><path class="gl" d="M26 0H66M725 0H766"/><text class="ll" x="21" y="4.5">55</text><text class="lr" x="771" y="4.5">55</text><use id="k55_1" href="#AR" x="84"/><use id="k55_2" href="#AR" x="136"/><use id="k55_3" href="#AR" x="188"/><use id="k55_4" href="#CR" x="240"/><use id="k55_5" href="#CR" x="292"/><use id="k55_6" href="#AR" x="344"/><use id="k55_7" href="#CR" x="396"/><use id="k55_8" href="#AR" x="448"/><use id="k55_9" href="#AR" x="500"/><use id="k55_10" href="#CR" x="552"/><use id="k55_11" href="#CR" x="604"/><use id="k55_12" href="#AR" x="656"/><use id="k55_13" href="#AR" x="708"/></g>
<g id="row56" transform="translate(0,2922)"><path class="gl" d="M26 0H66M725 0H766"/><text class="ll" x="21" y="4.5">56</text><text class="lr" x="771" y="4.5">56</text><use id="k56_1" href="#AL" x="84"/><use id="k56_2" href="#AL" x="136"/><use id="k56_3" href="#AL" x="188"/><use id="k56_4" href="#CL" x="240"/><use id="k56_5" href="#CL" x="292"/><use id="k56_6" href="#CL" x="344"/><use id="k56_7" href="#CL" x="396"/><use id="k56_8" href="#CL" x="448"/><use id="k56_9" href="#CL" x="500"/><use id="k56_10" href="#CL" x="552"/><use id="k56_11" href="#AL" x="604"/><use id="k56_12" href="#AL" x="656"/><use id="k56_13" href="#AL" x="708"/></g>
<g id="row57" transform="translate(0,2974)"><path class="gl" d="M26 0H66M725 0H766"/><text class="ll" x="21" y="4.5">57</text><text class="lr" x="771" y="4.5">57</text><use id="k57_1" href="#AR" x="84"/><use id="k57_2" href="#AR" x="136"/><use id="k57_3" href="#AR" x="188"/><use id="k57_4" href="#AR" x="240"/><use id="k57_5" href="#AR" x="292"/><use id="k57_6" href="#CR" x="344"/><use id="k57_7" href="#CR" x="396"/><use id="k57_8" href="#CR" x="448"/><use id="k57_9" href="#AR" x="500"/><use id="k57_10" href="#AR" x="552"/><use id="k57_11" href="#AR" x="604"/><use id="k57_12" href="#AR" x="656"/><use id="k57_13" href="#AR" x="708"/></g>
<g id="row58" transform="translate(0,3026)"><path class="gl" d="M26 0H66M725 0H766"/><text class="ll" x="21" y="4.5">58</text><text class="lr" x="771" y="4.5">58</text><use id="k58_1" href="#AL" x="84"/><use id="k58_2" href="#AL" x="136"/><use id="k58_3" href="#AL" x="188"/><use id="k58_4" href="#AL" x="240"/><use id="k58_5" href="#CL" x="292"/><use id="k58_6" href="#CL" x="344"/><use id="k58_7" href="#AL" x="396"/><use id="k58_8" href="#CL" x="448"/><use id="k58_9" href="#CL" x="500"/><use id="k58_10" href="#AL" x="552"/><use id="k58_11" href="#AL" x="604"/><use id="k58_12" href="#AL" x="656"/><use id="k58_13" href="#AL" x="708"/></g>
<g id="row59" transform="translate(0,3078)"><path class="gl" d="M26 0H66M725 0H766"/><text class="ll" x="21" y="4.5">59</text><text class="lr" x="771" y="4.5">59</text><use id="k59_1" href="#AR" x="84"/><use id="k59_2" href="#AR" x="136"/><use id="k59_3" href="#AR" x="188"/><use id="k59_4" href="#CR" x="240"/><use id="k59_5" href="#CR" x="292"/><use id="k59_6" href="#AR" x="344"/><use id="k59_7" href="#AR" x="396"/><use id="k59_8" href="#AR" x="448"/><use id="k59_9" href="#CR" x="500"/><use id="k59_10" href="#AR" x="552"/><use id="k59_11" href="#AR" x="604"/><use id="k59_12" href="#AR" x="656"/><use id="k59_13" href="#AR" x="708"/></g>
<g id="row60" transform="translate(0,3130)"><path class="gl" d="M725 0H766"/><text class="ll" x="21" y="4.5">60</text><text class="lr" x="771" y="4.5">60</text><use id="k60_1" href="#AL" x="84"/><use id="k60_2" href="#AL" x="136"/><use id="k60_3" href="#AL" x="188"/><use id="k60_4" href="#AL" x="240"/><use id="k60_5" href="#AL" x="292"/><use id="k60_6" href="#AL" x="344"/><use id="k60_7" href="#AL" x="396"/><use id="k60_8" href="#AL" x="448"/><use id="k60_9" href="#CL" x="500"/><use id="k60_10" href="#AL" x="552"/><use id="k60_11" href="#AL" x="604"/><use id="k60_12" href="#AL" x="656"/><use id="k60_13" href="#AL" x="708"/></g>
<g id="row61" transform="translate(0,3182)"><path class="gl" d="M26 0H66M725 0H766"/><text class="ll" x="21" y="4.5">61</text><text class="lr" x="771" y="4.5">61</text><use id="k61_1" href="#AR" x="84"/><use id="k61_2" href="#AR" x="136"/><use id="k61_3" href="#AR" x="188"/><use id="k61_4" href="#AR" x="240"/><use id="k61_5" href="#AR" x="292"/><use id="k61_6" href="#AR" x="344"/><use id="k61_7" href="#AR" x="396"/><use id="k61_8" href="#AR" x="448"/><use id="k61_9" href="#AR" x="500"/><use id="k61_10" href="#AR" x="552"/><use id="k61_11" href="#AR" x="604"/><use id="k61_12" href="#AR" x="656"/><use id="k61_13" href="#AR" x="708"/></g>
<g id="row62" transform="translate(0,3234)"><path class="gl" d="M26 0H66M725 0H766"/><text class="ll" x="21" y="4.5">62</text><text class="lr" x="771" y="4.5">62</text><use id="k62_1" href="#AL" x="84"/><use id="k62_2" href="#AL" x="136"/><use id="k62_3" href="#AL" x="188"/><use id="k62_4" href="#AL" x="240"/><use id="k62_5" href="#AL" x="292"/><use id="k62_6" href="#AL" x="344"/><use id="k62_7" href="#AL" x="396"/><use id="k62_8" href="#AL" x="448"/><use id="k62_9" href="#AL" x="500"/><use id="k62_10" href="#AL" x="552"/><use id="k62_11" href="#AL" x="604"/><use id="k62_12" href="#AL" x="656"/><use id="k62_13" href="#AL" x="708"/></g>
<g id="row63" transform="translate(0,3286)"><path class="gl" d="M26 0H66M725 0H766"/><text class="ll" x="21" y="4.5">63</text><text class="lr" x="771" y="4.5">63</text><use id="k63_1" href="#AR" x="84"/><use id="k63_2" href="#AR" x="136"/><use id="k63_3" href="#AR" x="188"/><use id="k63_4" href="#AR" x="240"/><use id="k63_5" href="#AR" x="292"/><use id="k63_6" href="#AR" x="344"/><use id="k63_7" href="#AR" x="396"/><use id="k63_8" href="#AR" x="448"/><use id="k63_9" href="#DR" x="500"/><use id="k63_10" href="#DR" x="552"/><use id="k63_11" href="#DR" x="604"/><use id="k63_12" href="#AR" x="656"/><use id="k63_13" href="#AR" x="708"/></g>
<g id="row64" transform="translate(0,3338)"><path class="gl" d="M725 0H766"/><text class="ll" x="21" y="4.5">64</text><text class="lr" x="771" y="4.5">64</text><use id="k64_1" href="#AL" x="84"/><use id="k64_2" href="#DL" x="136"/><use id="k64_3" href="#DL" x="188"/><use id="k64_4" href="#DL" x="240"/><use id="k64_5" href="#AL" x="292"/><use id="k64_6" href="#DL" x="344"/><use id="k64_7" href="#DL" x="396"/><use id="k64_8" href="#AL" x="448"/><use id="k64_9" href="#DL" x="500"/><use id="k64_10" href="#BL" x="552"/><use id="k64_11" href="#BL" x="604"/><use id="k64_12" href="#DL" x="656"/><use id="k64_13" href="#AL" x="708"/></g>
<g id="row65" transform="translate(0,3390)"><path class="gl" d="M26 0H66"/><text class="ll" x="21" y="4.5">65</text><text class="lr" x="771" y="4.5">65</text><use id="k65_1" href="#DR" x="84"/><use id="k65_2" href="#BR" x="136"/><use id="k65_3" href="#BR" x="188"/><use id="k65_4" href="#BR" x="240"/><use id="k65_5" href="#DR" x="292"/><use id="k65_6" href="#BR" x="344"/><use id="k65_7" href="#DR" x="396"/><use id="k65_8" href="#DR" x="448"/><use id="k65_9" href="#DR" x="500"/><use id="k65_10" href="#BR" x="552"/><use id="k65_11" href="#BR" x="604"/><use id="k65_12" href="#BR" x="656"/><use id="k65_13" href="#DR" x="708"/></g>
<g id="row66" transform="translate(0,3442)"><path class="gl" d="M26 0H66M725 0H766"/><text class="ll" x="21" y="4.5">66</text><text class="lr" x="771" y="4.5">66</text><use id="k66_1" href="#BL" x="84"/><use id="k66_2" href="#BL" x="136"/><use id="k66_3" href="#BL" x="188"/><use id="k66_4" href="#BL" x="240"/><use id="k66_5" href="#BL" x="292"/><use id="k66_6" href="#BL" x="344"/><use id="k66_7" href="#BL" x="396"/><use id="k66_8" href="#BL" x="448"/><use id="k66_9" href="#BL" x="500"/><use id="k66_10" href="#BL" x="552"/><use id="k66_11" href="#BL" x="604"/><use id="k66_12" href="#BL" x="656"/><use id="k66_13" href="#BL" x="708"/></g>
<g id="row67" transform="translate(0,3494)"><path class="gl" d="M26 0H66M725 0H766"/><text class="ll" x="21" y="4.5">67</text><text class="lr" x="771" y="4.5">67</text><use id="k67_1" href="#BR" x="84"/><use id="k67_2" href="#BR" x="136"/><use id="k67_3" href="#BR" x="188"/><use id="k67_4" href="#BR" x="240"/><use id="k67_5" href="#BR" x="292"/><use id="k67_6" href="#BR" x="344"/><use id="k67_7" href="#BR" x="396"/><use id="k67_8" href="#BR" x="448"/><use id="k67_9" href="#BR" x="500"/><use id="k67_10" href="#BR" x="552"/><use id="k67_11" href="#BR" x="604"/><use id="k67_12" href="#BR" x="656"/><use id="k67_13" href="#BR" x="708"/></g>
<g id="row68" transform="translate(0,3546)"><path class="gl" d="M725 0H766"/><text class="ll" x="21" y="4.5">68</text><text class="lr" x="771" y="4.5">68</text><use id="k68_1" href="#BL" x="84"/><use id="k68_2" href="#BL" x="136"/><use id="k68_3" href="#BL" x="188"/><use id="k68_4" href="#BL" x="240"/><use id="k68_5" href="#BL" x="292"/><use id="k68_6" href="#BL" x="344"/><use id="k68_7" href="#BL" x="396"/><use id="k68_8" href="#BL" x="448"/><use id="k68_9" href="#BL" x="500"/><use id="k68_10" href="#BL" x="552"/><use id="k68_11" href="#BL" x="604"/><use id="k68_12" href="#BL" x="656"/><use id="k68_13" href="#BL" x="708"/></g>
<text class="wm" x="396" y="1808">BRACELETBOOK.COM</text>
</svg>
